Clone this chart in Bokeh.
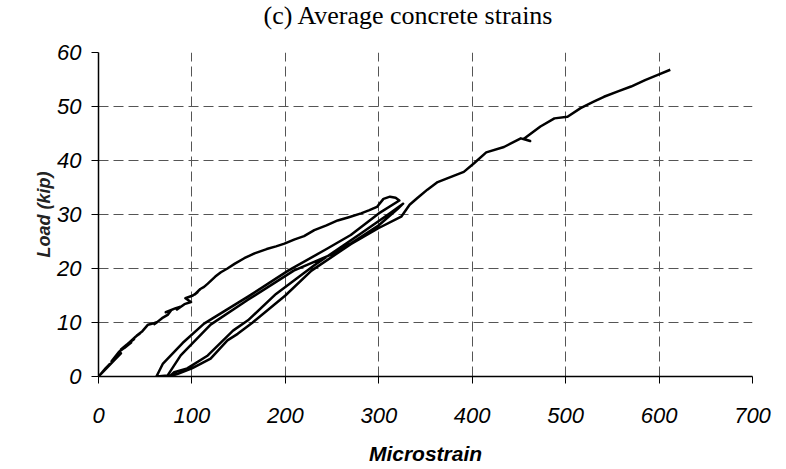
from bokeh.plotting import figure
from bokeh.models import Range1d, FixedTicker, Div
from bokeh.layouts import column
from bokeh.embed import file_html
from bokeh.resources import INLINE

# ---- data (microstrain, load in kip) ----
# initial loading with small cycles near the origin, then envelope to first peak
load1_strain = [0, 6, 12, 8, 3, 0, 10, 18, 24, 20, 14, 22, 30, 35, 28, 24, 33, 38, 31, 40, 44, 41, 47,
                50, 53, 58, 63, 60, 68, 74, 78, 72, 82, 87, 84, 92, 99, 93, 101, 106, 103, 109, 113,
                117, 125, 131, 138, 146, 156, 167, 180, 190, 199, 210, 220, 231, 244, 256, 268, 281,
                290, 298, 305, 312, 318, 322]
load1_kip = [0, 1.2, 2.3, 1.6, 0.6, 0, 1.8, 3.2, 4.3, 3.7, 2.8, 4.6, 5.6, 6.3, 5.3, 5.0, 6.3, 6.9, 6.0,
             7.4, 7.9, 7.6, 8.4, 9.0, 9.6, 9.8, 10.1, 9.7, 10.8, 11.4, 12.3, 11.9, 12.6, 12.9, 12.4,
             13.4, 13.8, 14.5, 15.0, 15.6, 15.2, 16.2, 16.6, 17.2, 18.5, 19.3, 20.0, 20.9, 21.9, 22.8,
             23.6, 24.1, 24.6, 25.4, 26.0, 27.1, 28.0, 28.9, 29.5, 30.2, 30.8, 31.4, 32.9, 33.3, 33.1,
             32.6]

# first unloading (upper-left branch of the loops)
unload1_strain = [322, 300, 270, 245, 203, 160, 113, 90, 69, 62]
unload1_kip = [32.6, 30.2, 26.2, 23.7, 19.6, 14.8, 9.8, 6.2, 2.4, 0]

# first reloading
reload1_strain = [62, 74, 88, 120, 160, 209, 252, 270, 300, 320, 326]
reload1_kip = [0, 0.2, 3.9, 9.6, 14.2, 19.6, 22.8, 24.6, 28.0, 31.0, 32.0]

# second unloading
unload2_strain = [326, 310, 280, 231, 190, 160, 144, 117, 95, 81, 76]
unload2_kip = [32.0, 30.0, 26.4, 20.6, 15.3, 10.4, 8.5, 3.9, 1.5, 0.8, 0]

# second reloading and continued loading to the end of the test
reload2_strain = [76, 85, 100, 120, 138, 149, 165, 200, 228, 270, 300, 324, 333, 341, 352, 363, 378,
                  391, 402, 415, 434, 452, 462, 455, 473, 488, 502, 516, 530, 541, 556, 570, 585, 598,
                  612]
reload2_kip = [0, 0.5, 1.5, 3.3, 6.7, 7.9, 10.0, 15.0, 19.6, 24.5, 27.5, 29.6, 31.8, 33.0, 34.6, 36.0,
               37.0, 37.9, 39.5, 41.5, 42.5, 44.1, 43.6, 44.0, 46.3, 47.8, 48.1, 49.7, 50.9, 51.8,
               52.8, 53.7, 54.9, 55.8, 56.8]

x_ticks = [0, 100, 200, 300, 400, 500, 600, 700]
y_ticks = [0, 10, 20, 30, 40, 50, 60]
title_text = "(c) Average concrete strains"

strain = load1_strain + unload1_strain + reload1_strain + unload2_strain + reload2_strain
kip = load1_kip + unload1_kip + reload1_kip + unload2_kip + reload2_kip

p = figure(width=778, height=427, output_backend="svg", toolbar_location=None,
           x_range=Range1d(0, 700), y_range=Range1d(0, 60),
           min_border_left=98, min_border_right=26, min_border_top=12, min_border_bottom=91,
           margin=0)

p.line(strain, kip, line_color="black", line_width=2.5, line_join="round")

for ax in (p.xaxis[0], p.yaxis[0]):
    ax.major_label_text_font = "Liberation Sans"
    ax.major_label_text_font_style = "italic"
    ax.major_label_text_font_size = "22px"
    ax.major_label_text_color = "black"
    ax.axis_label_text_font = "Liberation Sans"
    ax.axis_label_text_font_style = "bold italic"
    ax.axis_label_text_color = "black"
    ax.axis_line_color = "black"
    ax.axis_line_width = 1.5
    ax.major_tick_line_color = "black"
    ax.major_tick_in = 0
    ax.major_tick_out = 7
    ax.minor_tick_line_color = None

p.xaxis.ticker = FixedTicker(ticks=x_ticks)
p.yaxis.ticker = FixedTicker(ticks=y_ticks)
p.xaxis.axis_label = "Microstrain"
p.yaxis.axis_label = "Load (kip)"
p.xaxis.axis_label_text_font_size = "21px"
p.yaxis.axis_label_text_font_size = "18px"
p.yaxis.axis_label_text_color = "#222222"
p.xaxis.major_label_standoff = 24
p.yaxis.major_label_standoff = 10
p.xaxis.axis_label_standoff = 16
p.yaxis.axis_label_standoff = 0

p.grid.grid_line_color = "#555555"
p.grid.grid_line_dash = "10 5"
p.grid.grid_line_width = 1
p.outline_line_color = None
p.background_fill_color = "white"
p.border_fill_color = "white"

title_div = Div(
    text=('<div style="width:740px;margin-left:38px;padding-top:1px;text-align:center;'
          'font-family:\'Liberation Serif\',serif;font-size:26px;line-height:30px;color:black;">'
          + title_text + '</div>'),
    width=778, height=40, margin=0)

layout = column(title_div, p, spacing=0, margin=0)

open("out.html", "w").write(file_html(layout, INLINE))
